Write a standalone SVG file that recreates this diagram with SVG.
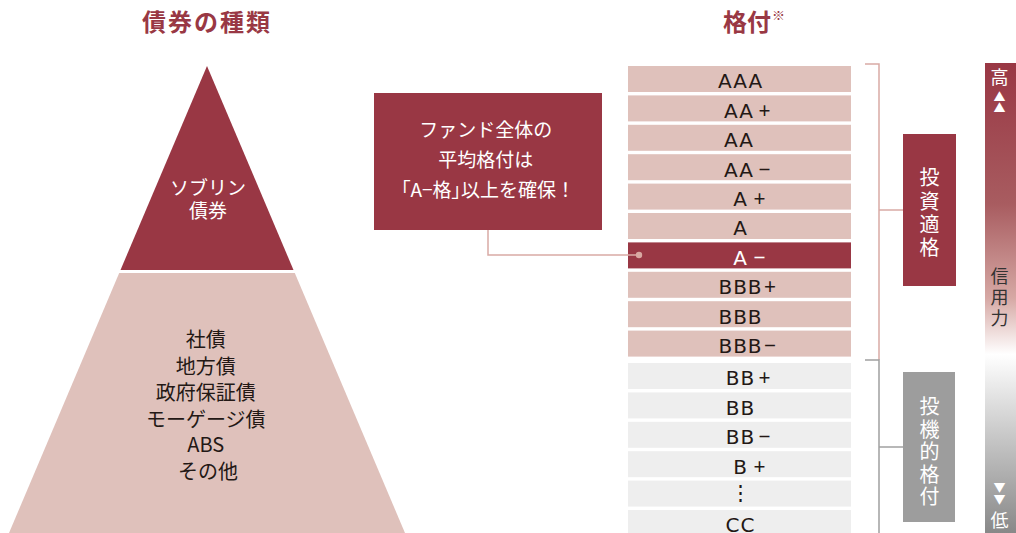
<svg xmlns="http://www.w3.org/2000/svg" width="1016" height="533" viewBox="0 0 1016 533">
<style>
.jp{font-family:"Noto Sans CJK JP","Noto Sans",sans-serif}
.vt{writing-mode:vertical-rl;text-anchor:middle}
.title{font-family:"Noto Sans CJK JP",sans-serif;font-weight:bold;font-size:24px;fill:#993844}
.pk{fill:#dfc1bb}
.gy{fill:#eeeeee}
.dr{fill:#993744}
.rt{font-family:"DejaVu Sans","Noto Sans",sans-serif;font-size:20px;fill:#231815;letter-spacing:1px;text-anchor:middle}
.sg{font-family:"Noto Sans","Noto Sans CJK JP",sans-serif;font-size:21px;fill:#231815;text-anchor:middle}
.w{fill:#ffffff}
.pkl{stroke:#d9aaa5;stroke-width:1.5;fill:none}
.gyl{stroke:#a0a0a0;stroke-width:1.5;fill:none}
</style>
<defs>
<linearGradient id="cred" x1="0" y1="63" x2="0" y2="533" gradientUnits="userSpaceOnUse">
<stop offset="0" stop-color="#993744"/>
<stop offset="0.3" stop-color="#a85c60"/>
<stop offset="0.5" stop-color="#d6a8a4"/>
<stop offset="0.62" stop-color="#ffffff"/>
<stop offset="0.78" stop-color="#cccccc"/>
<stop offset="1" stop-color="#888888"/>
</linearGradient>
</defs>
<rect width="1016" height="533" fill="#ffffff"/>

<g id="titles">
<text class="title" x="207" y="31" text-anchor="middle" letter-spacing="2">債券の種類</text>
<text class="title" x="723" y="31">格付<tspan font-size="13" font-weight="normal" dx="1" dy="-11">※</tspan></text>
</g>

<g id="pyramid-top">
<polygon class="dr" points="207,66 120.5,270 293.5,270"/>
<text class="jp w" font-size="19" text-anchor="middle"><tspan x="208" y="195">ソブリン</tspan><tspan x="208" y="218">債券</tspan></text>
</g>

<g id="pyramid-bottom">
<polygon class="pk" points="119.2,273 294.8,273 405,533 9,533"/>
<text class="jp" font-size="20" fill="#231815" text-anchor="middle">
<tspan x="208" y="347">社債</tspan>
<tspan x="208" y="373.5">地方債</tspan>
<tspan x="208" y="400">政府保証債</tspan>
<tspan x="208" y="426.5">モーゲージ債</tspan>
<tspan x="208" y="452">ABS</tspan>
<tspan x="208" y="478.5">その他</tspan>
</text>
</g>

<g id="callout">
<rect class="dr" x="374" y="93" width="228" height="137"/>
<text class="jp w" font-size="19" text-anchor="middle">
<tspan x="488" y="137">ファンド全体の</tspan>
<tspan x="488" y="167">平均格付は</tspan>
<tspan x="488" y="197"><tspan style="font-feature-settings:'palt'">「A−格」</tspan>以上を確保！</tspan>
</text>
</g>

<g id="ratings">
<rect class="pk" x="628" y="66" width="223" height="26"/>
<text class="rt" x="740.5" y="88.3">AAA</text>
<rect class="pk" x="628" y="95.4" width="223" height="26"/>
<text class="rt" x="739" y="117.7">AA</text><text class="sg" x="764.5" y="117.7">+</text>
<rect class="pk" x="628" y="124.8" width="223" height="26"/>
<text class="rt" x="739" y="147.1">AA</text>
<rect class="pk" x="628" y="154.2" width="223" height="26"/>
<text class="rt" x="739" y="176.5">AA</text><text class="sg" x="764.5" y="176.5">−</text>
<rect class="pk" x="628" y="183.6" width="223" height="26"/>
<text class="rt" x="740.5" y="205.9">A</text><text class="sg" x="759.5" y="205.9">+</text>
<rect class="pk" x="628" y="213" width="223" height="26"/>
<text class="rt" x="740.5" y="235.3">A</text>
<rect class="dr" x="628" y="242.4" width="223" height="26"/>
<text class="rt" x="740.5" y="264.7" style="fill:#ffffff">A</text><text class="sg" x="759.5" y="264.7" style="fill:#ffffff">−</text>
<rect class="pk" x="628" y="271.8" width="223" height="26"/>
<text class="rt" x="740.5" y="294.1">BBB</text><text class="sg" x="770" y="294.1">+</text>
<rect class="pk" x="628" y="301.2" width="223" height="26"/>
<text class="rt" x="740.5" y="323.5">BBB</text>
<rect class="pk" x="628" y="330.6" width="223" height="26"/>
<text class="rt" x="740.5" y="352.9">BBB</text><text class="sg" x="770" y="352.9">−</text>

<rect class="gy" x="628" y="363" width="223" height="26"/>
<text class="rt" x="740.5" y="385.3">BB</text><text class="sg" x="764.5" y="385.3">+</text>
<rect class="gy" x="628" y="392.4" width="223" height="26"/>
<text class="rt" x="740.5" y="414.7">BB</text>
<rect class="gy" x="628" y="421.8" width="223" height="26"/>
<text class="rt" x="740.5" y="444.1">BB</text><text class="sg" x="764.5" y="444.1">−</text>
<rect class="gy" x="628" y="451.2" width="223" height="26"/>
<text class="rt" x="740.5" y="473.5">B</text><text class="sg" x="759.5" y="473.5">+</text>
<rect class="gy" x="628" y="480.6" width="223" height="26"/>
<text class="sg" x="740" y="500" font-size="16">⋮</text>
<rect class="gy" x="628" y="510" width="223" height="26"/>
<text class="rt" x="740.5" y="532">CC</text>
</g>

<g id="connectors">
<path class="pkl" d="M488 230 V255 H639" stroke-width="1.2"/>
<circle cx="639" cy="255" r="3.2" fill="#d9a8a2"/>
<path class="pkl" d="M865 64 H879 V360"/>
<path class="pkl" d="M879 210 H903"/>
<path class="gyl" d="M865 360 H879 V533"/>
<path class="gyl" d="M879 447 H903"/>
</g>

<g id="investment-grade">
<rect class="dr" x="903" y="134" width="53" height="152"/>
<text class="jp w vt" font-size="20" letter-spacing="3.3" x="929.5" y="214.5">投資適格</text>
</g>

<g id="speculative-grade">
<rect x="903" y="372" width="52" height="150" fill="#9d9d9d"/>
<text class="jp w vt" font-size="20" letter-spacing="2.5" x="929.5" y="453">投機的格付</text>
</g>

<g id="credit-bar">
<rect x="985" y="63" width="31" height="470" fill="url(#cred)"/>
<text class="jp w vt" font-size="18" x="999.5" y="77">高</text>
<text class="jp w vt" font-size="12" letter-spacing="-0.5" x="999.5" y="102.5">▲▲</text>
<text class="jp vt" font-size="18" fill="#333333" letter-spacing="3" x="999.5" y="298.5">信用力</text>
<text class="jp w vt" font-size="12" letter-spacing="-0.5" x="999.5" y="493">▼▼</text>
<text class="jp w vt" font-size="18" x="999.5" y="520">低</text>
</g>
</svg>
